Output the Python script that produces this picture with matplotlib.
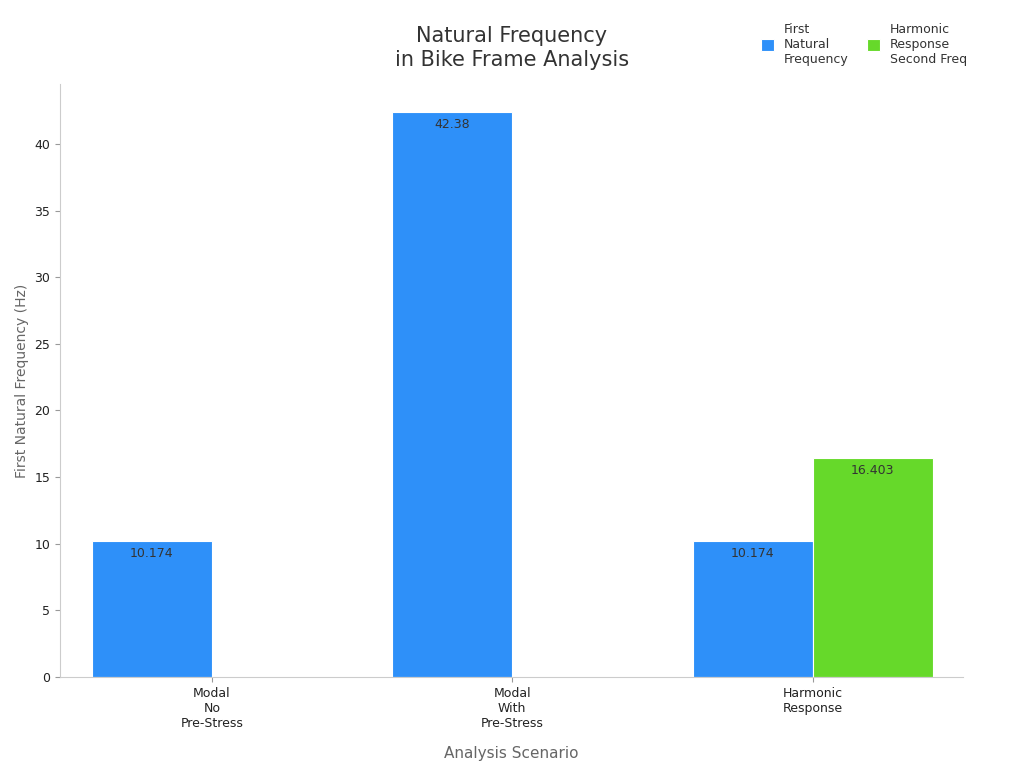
import matplotlib.pyplot as plt
import numpy as np

categories = ["Modal\nNo\nPre-Stress", "Modal\nWith\nPre-Stress", "Harmonic\nResponse"]
first_freq = [10.174, 42.38, 10.174]
second_freq = [None, None, 16.403]
series_names = ["First\nNatural\nFrequency", "Harmonic\nResponse\nSecond Freq"]
yticks = [0, 5, 10, 15, 20, 25, 30, 35, 40]

blue = "#2E90F9"
green = "#66D92A"

fig = plt.figure(figsize=(10.24, 7.68), dpi=100)
ax = fig.add_axes([60/1024, 1-677/768, (963-60)/1024, (677-84)/768])

x = np.arange(len(categories))
w = 0.4
b1 = ax.bar(x - w/2, first_freq, w, color=blue, edgecolor="white", linewidth=0.8, label=series_names[0])
for xi, v in zip(x, first_freq):
    ax.text(xi - w/2, v - 0.4, f"{v:g}", ha="center", va="top", fontsize=9, color="#333333")
gx = [xi for xi, v in zip(x, second_freq) if v is not None]
gv = [v for v in second_freq if v is not None]
ax.bar(np.array(gx) + w/2, gv, w, color=green, edgecolor="white", linewidth=0.8, label=series_names[1])
for xi, v in zip(gx, gv):
    ax.text(xi + w/2, v - 0.4, f"{v:g}", ha="center", va="top", fontsize=9, color="#333333")

ax.set_xlim(-0.505, 2.5)
ax.set_ylim(0, 44.5)
ax.set_yticks(yticks)
ax.set_xticks(x)
ax.set_xticklabels(categories, fontsize=9, color="#222222")
ax.tick_params(axis="y", labelsize=9, colors="#222222")
ax.tick_params(axis="both", color="#999999")
for s in ["top", "right"]:
    ax.spines[s].set_visible(False)
for s in ["left", "bottom"]:
    ax.spines[s].set_color("#cccccc")
ax.set_xlabel("Analysis Scenario", fontsize=11, color="#666666", labelpad=12)
ax.set_ylabel("First Natural Frequency (Hz)", fontsize=10, color="#666666")
fig.text(512/1024, 1-48/768, "Natural Frequency\nin Bike Frame Analysis", ha="center", va="center",
         fontsize=15, color="#333333", linespacing=1.3)
fig.legend(loc="upper right", bbox_to_anchor=(0.955, 0.985), ncol=2, frameon=False,
           fontsize=9, handlelength=1, handleheight=1, columnspacing=1.5, labelcolor="#333333")
fig.savefig("out.png", dpi=100)
